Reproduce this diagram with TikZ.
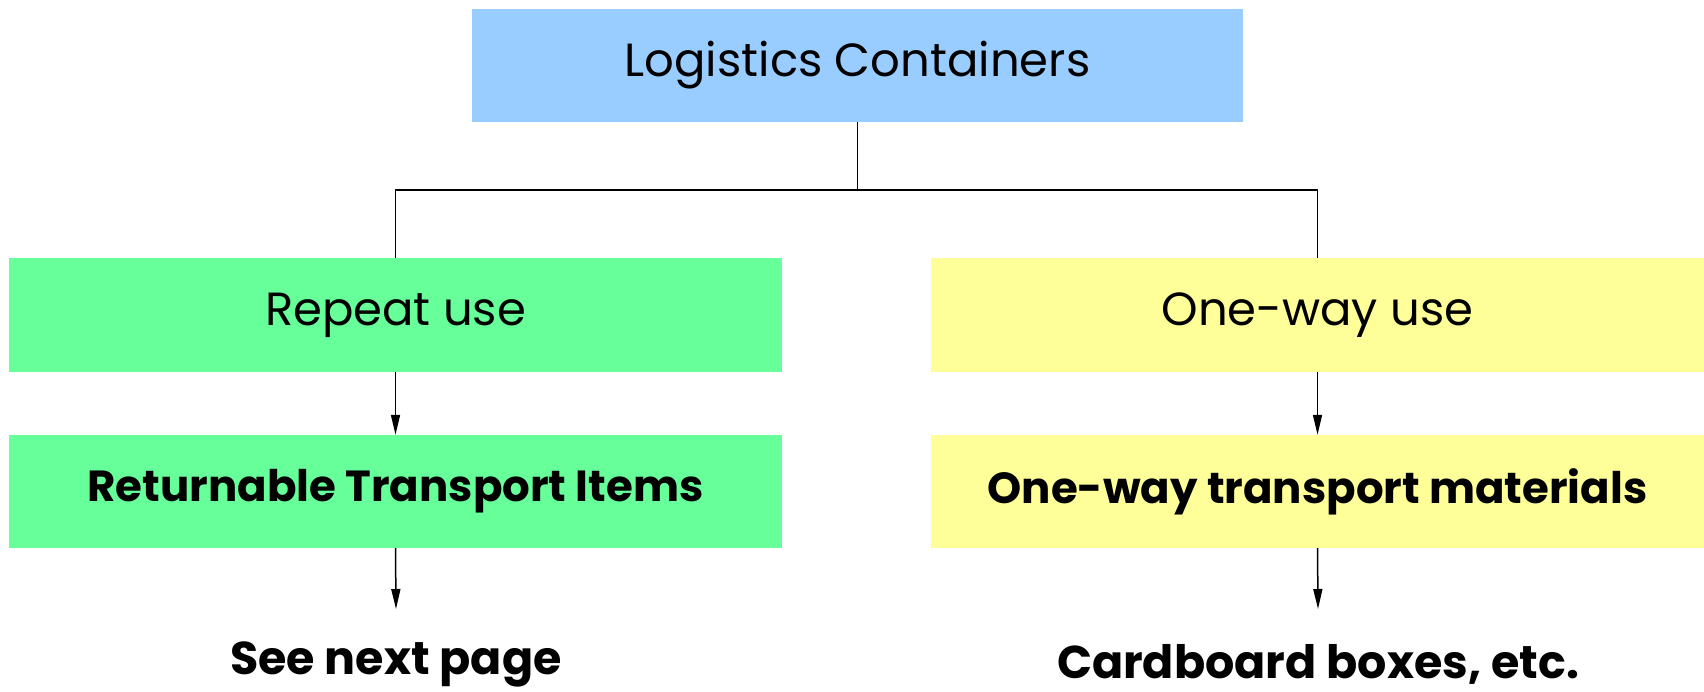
\documentclass[tikz,border=0pt]{standalone}
\usepackage{fontspec}
\setmainfont{Poppins}
\usetikzlibrary{arrows.meta}
\definecolor{cblue}{HTML}{99CCFF}
\definecolor{cgreen}{HTML}{66FF99}
\definecolor{cyellow}{HTML}{FFFF99}
\tikzset{
  boxnode/.style={draw=none, minimum height=114pt, inner sep=0pt, font=\fontsize{46.5}{54}\selectfont},
  boldbox/.style={boxnode, font=\fontsize{43.5}{52}\selectfont\bfseries},
  boldtext/.style={inner sep=0pt, font=\fontsize{46}{55}\selectfont\bfseries},
  conn/.style={line width=1.5pt, draw=black},
  arr/.style={conn, -{Triangle[length=20pt, width=9pt]}}
}
\begin{document}
\begin{tikzpicture}[x=1pt,y=-1pt]
\useasboundingbox[fill=white] (0,0) rectangle (1704,691);
\node[boxnode, fill=cblue, minimum width=771pt, minimum height=113pt] (top) at (857.5,65.5) {Logistics Containers};
\node[boxnode, fill=cgreen, minimum width=773pt] (rep) at (395.5,315) {Repeat use};
\node[boxnode, fill=cyellow, minimum width=773pt] (one) at (1317.5,315) {One-way use};
\node[boldbox, fill=cgreen, minimum width=773pt, minimum height=113pt] (ret) at (395.5,491.5) {Returnable Transport Items};
\node[boldbox, fill=cyellow, minimum width=773pt, minimum height=113pt] (owt) at (1317.5,491.5) {One-way transport materials};
\node[boldtext] (see) at (396,664) {See next page};
\node[boldtext] (card) at (1318,664) {Cardboard boxes, etc.};
\coordinate (split) at (857.5,190);
\draw[conn] (top.south) -- (split);
\draw[conn] (rep.north) |- (split) -| (one.north);
\draw[arr] (rep.south) -- (ret.north);
\draw[arr] (one.south) -- (owt.north);
\draw[arr] (ret.south) -- (396,609) coordinate (ea);
\draw[arr] (owt.south) -- (1318,609) coordinate (eb);
\end{tikzpicture}
\end{document}
